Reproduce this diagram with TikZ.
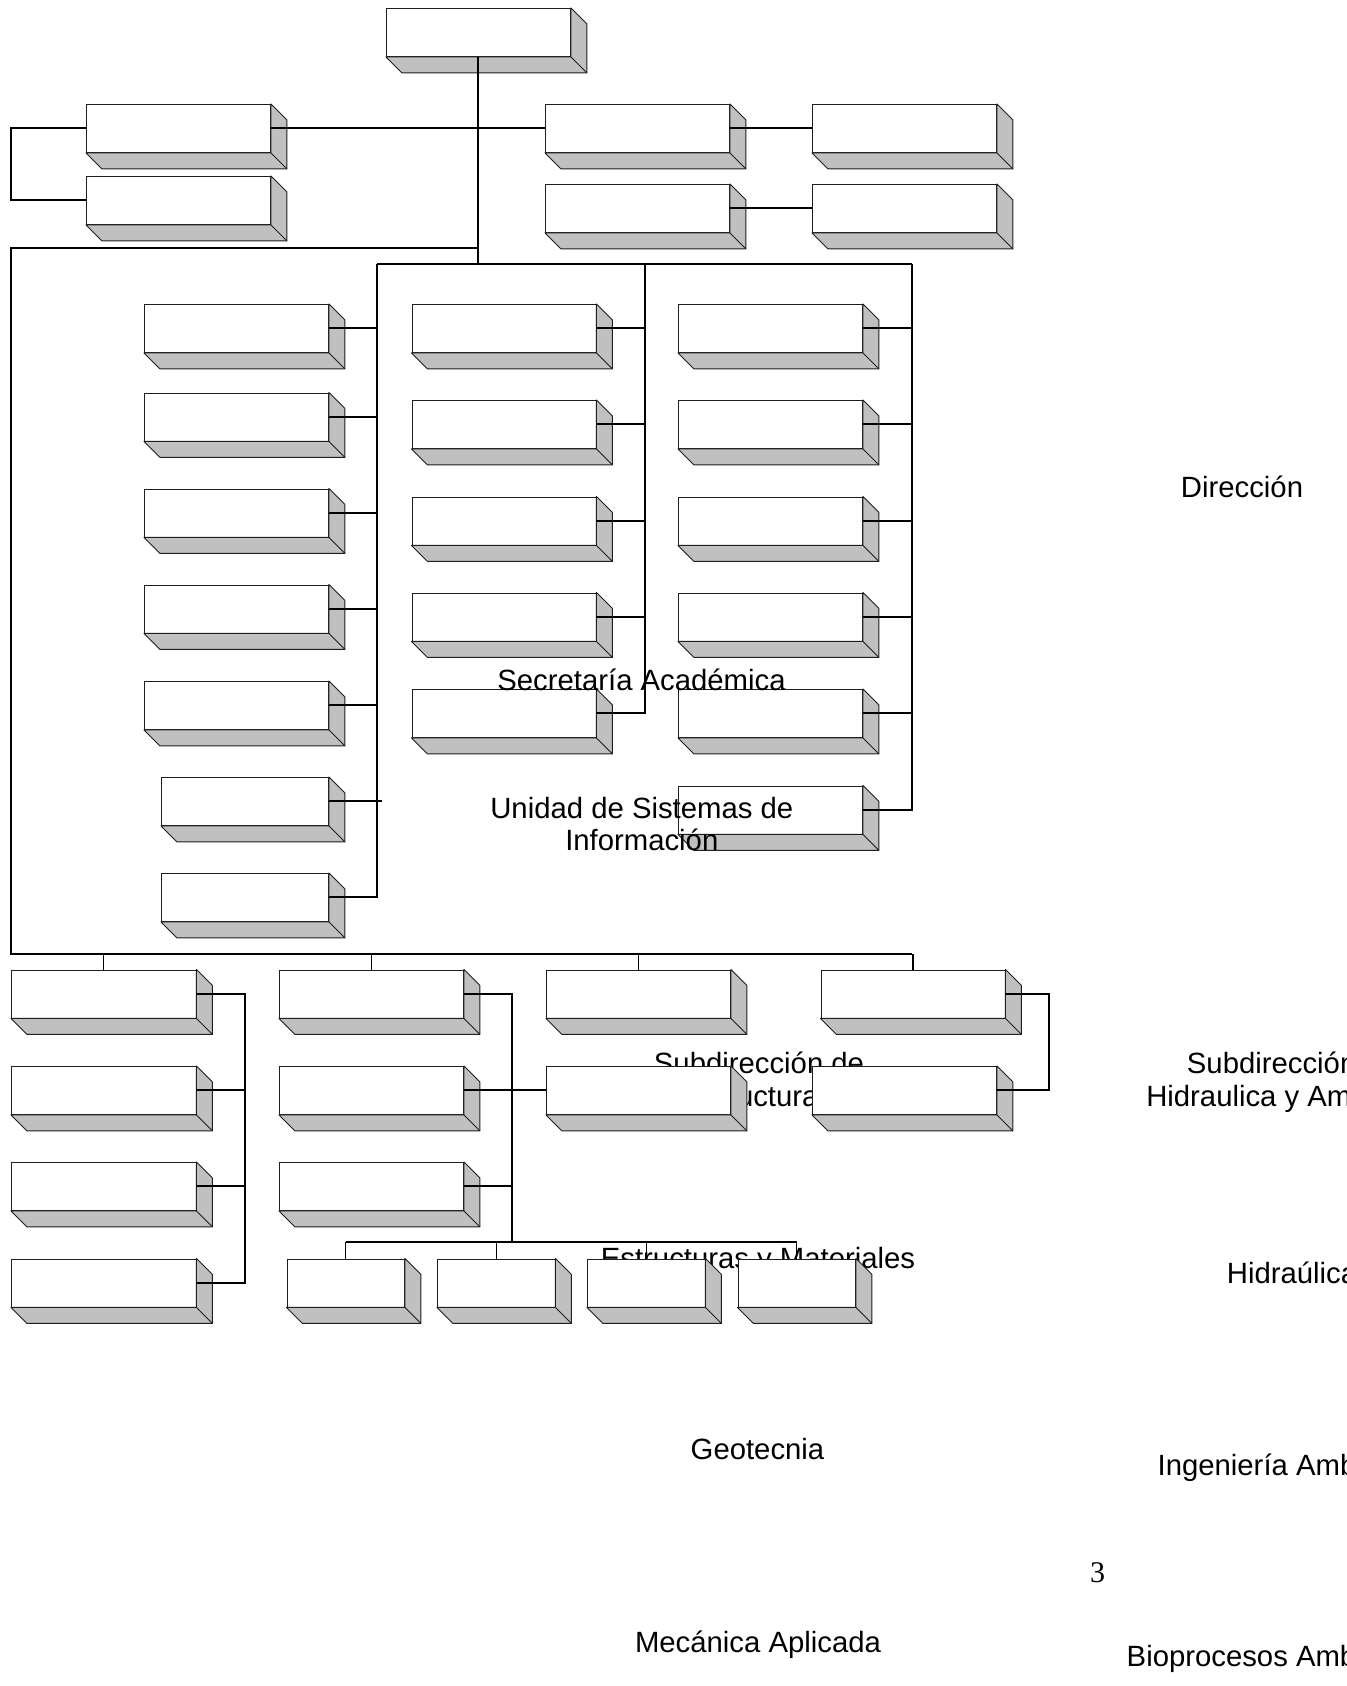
\documentclass[tikz,border=0pt]{standalone}
\usepackage{fontspec}
\setsansfont{Liberation Sans}
\newfontfamily\serifnum{Liberation Serif}
\usepackage{tikz}
\usetikzlibrary{calc}
\definecolor{boxline}{HTML}{1E1E1E}
\definecolor{boxshade}{HTML}{C0C0C0}
\newcommand\drawdepth[1]{%
  \filldraw[draw=boxline, fill=boxshade, line width=.45pt, line join=round]
    (#1.north east) -- ++(16,16) -- ([shift={(16,16)}]#1.south east)
    -- ([shift={(16,16)}]#1.south west) -- (#1.south west) -- (#1.south east) -- cycle;
  \draw[draw=boxline, line width=.45pt] (#1.south east) -- ++(16,16);}
\tikzset{
  font=\sffamily\fontsize{14.65}{16.2}\selectfont,
  unitbox/.style={
    draw=boxline, fill=white, line width=.45pt, inner sep=0pt,
    minimum width=92pt, minimum height=24pt, anchor=north west
  },
  smallbox/.style={unitbox, minimum width=58.75pt},
  link/.style={draw=black, line width=1pt},
  thinlink/.style={draw=black, line width=.55pt},
  orgtext/.style={anchor=base, align=center, text=black, inner sep=0pt},
  pagenum/.style={orgtext, font=\serifnum\fontsize{15}{18}\selectfont}
}

\begin{document}
\begin{tikzpicture}[x=.5pt, y=-.5pt]
  \useasboundingbox (0,0) rectangle (1346,1686);

  \node[orgtext] (seText) at (759,1106) {Subdirección de\\Estructuras};
  \node[orgtext] (emText) at (758,1268) {Estructuras y Materiales};

  \node[unitbox] (top) at (386,8) {};
  \node[unitbox] (leftUp) at (86,104) {};
  \node[unitbox] (leftDown) at (86,176) {};
  \node[unitbox] (rightUpA) at (545,104) {};
  \node[unitbox] (rightUpB) at (812,104) {};
  \node[unitbox] (rightDownA) at (545,184) {};
  \node[unitbox] (rightDownB) at (812,184) {};

  \foreach \y [count=\i] in {304,392.5,488.5,584.5,681}
    \node[unitbox] (colA\i) at (144,\y) {};
  \node[unitbox, minimum width=83.5pt] (colA6) at (161,777) {};
  \node[unitbox, minimum width=83.5pt] (colA7) at (161,873) {};
  \foreach \y [count=\i] in {304,400,496.5,592.5,689}
    \node[unitbox] (colB\i) at (411.5,\y) {};
  \foreach \y [count=\i] in {304,400,496.5,592.5,689,785.5}
    \node[unitbox] (colC\i) at (678,\y) {};

  \foreach \y [count=\i] in {969.5,1066,1162,1258.5}
    \node[unitbox, minimum width=92.25pt] (subA\i) at (11,\y) {};
  \foreach \y [count=\i] in {969.5,1066,1162}
    \node[unitbox] (subB\i) at (279,\y) {};
  \node[unitbox] (subC1) at (546,969.5) {};
  \node[unitbox] (subC2) at (546,1066) {};
  \node[unitbox] (subD1) at (820.5,969.5) {};
  \node[unitbox] (subD2) at (812,1066) {};
  \foreach \x/\n in {286.5/labA,437/labB,587/labC,737.5/labD}
    \node[smallbox] (\n) at (\x,1258.5) {};

  \foreach \n in {top,leftUp,leftDown,rightUpA,rightUpB,rightDownA,rightDownB,
      colA1,colA2,colA3,colA4,colA5,colA6,colA7,colB1,colB2,colB3,colB4,colB5,
      colC1,colC2,colC3,colC4,colC5,colC6,subA1,subA2,subA3,subA4,subB1,subB2,subB3,
      subC1,subC2,subD1,subD2,labA,labB,labC,labD}
    \drawdepth{\n};

  \coordinate (bracketX) at (10.5,0);
  \coordinate (frameTop) at (10.5,248);
  \coordinate (frameBL) at (10.5,954);
  \coordinate (frameBR) at (912,954);
  \coordinate (busL) at (377,264);
  \coordinate (busB) at (645,264);
  \coordinate (busR) at (912,264);
  \coordinate (spineA) at (244.5,0);
  \coordinate (spineB) at (512,0);
  \coordinate (spineD) at (1049,0);
  \coordinate (labBus) at (0,1242.3);

  \draw[link] (top.south) -- (top.south |- busL);
  \draw[link] (leftUp.east) -- (rightUpA.west);
  \draw[link] (leftUp.west) -- (leftUp.west -| bracketX) -- (leftDown.west -| bracketX) -- (leftDown.west);
  \draw[link] (rightUpA.east) -- (rightUpB.west);
  \draw[link] (rightDownA.east) -- (rightDownB.west);
  \draw[link] (top.south |- frameTop) -- (frameTop) -- (frameBL) -- (frameBR);

  \draw[link] (busL) -- (busR);
  \draw[link] (busL) -- (colA7.east -| busL) -- (colA7.east);
  \foreach \i in {1,...,5}
    \draw[link] (colA\i.east) -- (colA\i.east -| busL);
  \draw[link] (colA6.east) -- ([xshift=2.5pt]colA6.east -| busL);
  \draw[link] (busB) -- (colB5.east -| busB) -- (colB5.east);
  \foreach \i in {1,...,4}
    \draw[link] (colB\i.east) -- (colB\i.east -| busB);
  \draw[link] (busR) -- (colC6.east -| busR) -- (colC6.east);
  \foreach \i in {1,...,5}
    \draw[link] (colC\i.east) -- (colC\i.east -| busR);

  \foreach \n in {subA1,subB1,subC1,subD1}
    \draw[thinlink] (\n.north |- frameBR) -- (\n.north);
  \draw[link] (subA1.east) -- (subA1.east -| spineA) -- (subA4.east -| spineA) -- (subA4.east);
  \foreach \i in {2,3}
    \draw[link] (subA\i.east) -- (subA\i.east -| spineA);
  \draw[link] (subB1.east) -- (subB1.east -| spineB) -- (spineB |- labBus);
  \draw[link] (subB2.east) -- (subC2.west);
  \draw[link] (subB3.east) -- (subB3.east -| spineB);
  \draw[link] (labA.north |- labBus) -- (labD.north |- labBus);
  \foreach \n in {labA,labB,labC,labD}
    \draw[thinlink] (\n.north |- labBus) -- (\n.north);
  \draw[link] (subD1.east) -- (subD1.east -| spineD) -- (subD2.east -| spineD) -- (subD2.east);

  \node[orgtext] (dirText) at (1242,497) {Dirección};
  \node[orgtext] (secText) at (641.5,690) {Secretaría Académica};
  \node[orgtext] (usiText) at (641.8,850.7) {Unidad de Sistemas de\\Información};
  \node[orgtext] (shaText) at (1292,1106) {Subdirección de\\Hidraulica y Ambiental};
  \node[orgtext] (hidText) at (1292,1283.5) {Hidraúlica};
  \node[orgtext] (geoText) at (757.5,1459.3) {Geotecnia};
  \node[orgtext] (iaText) at (1292,1475) {Ingeniería Ambiental};
  \node[pagenum] (pageNum) at (1097.6,1582.7) {3};
  \node[orgtext] (maText) at (758,1652.3) {Mecánica Aplicada};
  \node[orgtext] (baText) at (1292,1666) {Bioprocesos Ambientales};
\end{tikzpicture}
\end{document}
